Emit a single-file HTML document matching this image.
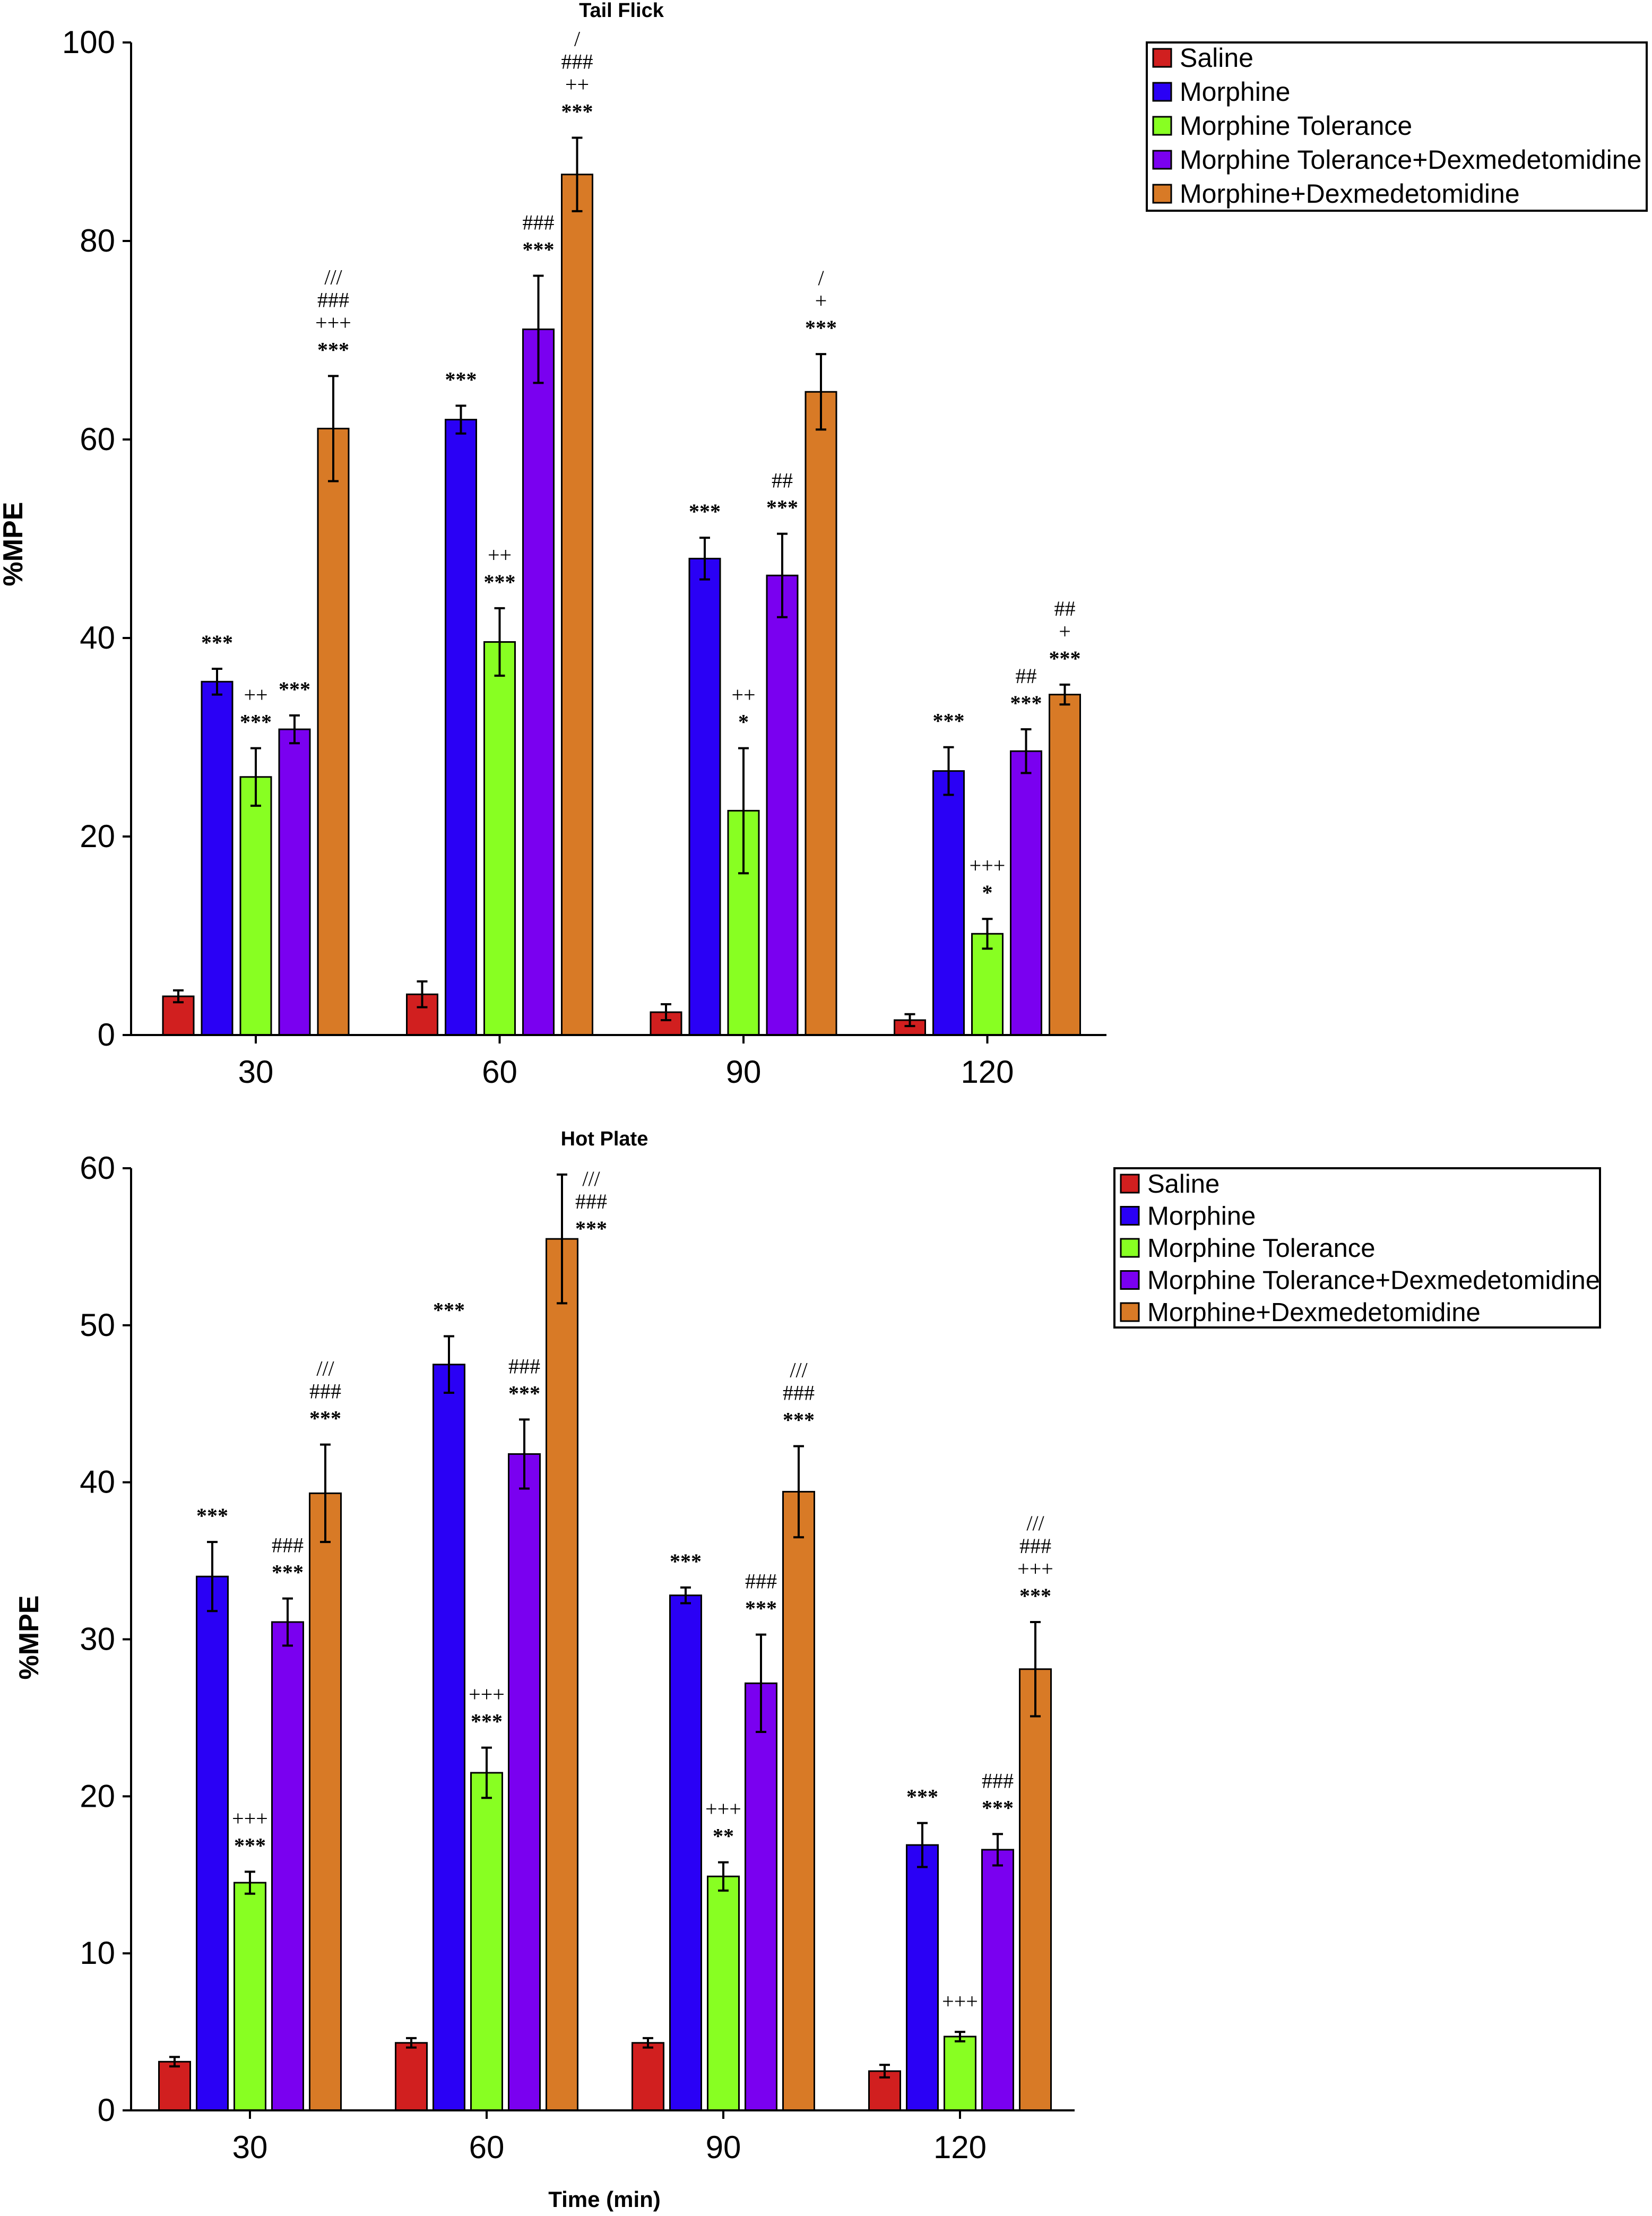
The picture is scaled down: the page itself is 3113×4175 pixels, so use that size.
<!DOCTYPE html>
<html><head><meta charset="utf-8"><style>
html,body{margin:0;padding:0;background:#fff;}
svg{display:block;}
text{font-family:"Liberation Sans Narrow","Liberation Sans",sans-serif;}
</style></head><body>
<svg id="c" width="3113" height="4175" viewBox="0 0 3113 4175" xmlns="http://www.w3.org/2000/svg"></svg>
<script>
const groups = ["30","60","90","120"];
const seriesNames = ["Saline","Morphine","Morphine Tolerance","Morphine Tolerance+Dexmedetomidine","Morphine+Dexmedetomidine"];
const colors = ["#d11f1f","#2a00f5","#88ff22","#7a00f0","#d87a26"];
// Tail Flick
const tfSaline = [3.9,4.1,2.3,1.5];
const tfMorphine = [35.6,62.0,48.0,26.6];
const tfTolerance = [26.0,39.6,22.6,10.2];
const tfTolDex = [30.8,71.1,46.3,28.6];
const tfMorDex = [61.1,86.7,64.8,34.3];
const tfErrSaline = [0.6,1.3,0.8,0.6];
const tfErrMorphine = [1.3,1.4,2.1,2.4];
const tfErrTolerance = [2.9,3.4,6.3,1.5];
const tfErrTolDex = [1.4,5.4,4.2,2.2];
const tfErrMorDex = [5.3,3.7,3.8,1.0];
const tfTicks = [0,20,40,60,80,100];
const tfMarks = [
 [[],["***"],["***","++"],["***"],["***","+++","###","///"]],
 [[],["***"],["***","++"],["***","###"],["***","++","###","/"]],
 [[],["***"],["*","++"],["***","##"],["***","+","/"]],
 [[],["***"],["*","+++"],["***","##"],["***","+","##"]]
];
// Hot Plate
const hpSaline = [3.1,4.3,4.3,2.5];
const hpMorphine = [34.0,47.5,32.8,16.9];
const hpTolerance = [14.5,21.5,14.9,4.7];
const hpTolDex = [31.1,41.8,27.2,16.6];
const hpMorDex = [39.3,55.5,39.4,28.1];
const hpErrSaline = [0.3,0.3,0.3,0.4];
const hpErrMorphine = [2.2,1.8,0.5,1.4];
const hpErrTolerance = [0.7,1.6,0.9,0.3];
const hpErrTolDex = [1.5,2.2,3.1,1.0];
const hpErrMorDex = [3.1,4.1,2.9,3.0];
const hpTicks = [0,10,20,30,40,50,60];
const hpMarks = [
 [[],["***"],["***","+++"],["***","###"],["***","###","///"]],
 [[],["***"],["***","+++"],["***","###"],["***","###","///"]],
 [[],["***"],["**","+++"],["***","###"],["***","###","///"]],
 [[],["***"],["+++"],["***","###"],["***","+++","###","///"]]
];

const NS="http://www.w3.org/2000/svg";
const svg=document.getElementById('c');
function mk(tag,attrs,parent,txt){const e=document.createElementNS(NS,tag);for(const k in attrs)e.setAttribute(k,attrs[k]);if(txt!==undefined)e.textContent=txt;(parent||svg).appendChild(e);return e;}

function chart(cfg){
  const g=mk('g',{});
  
  
  const y=v=>cfg.y0-(v-0)/cfg.max*(cfg.y0-cfg.yTop);
  const gx=i=>cfg.centers0+i*cfg.groupStep;
  const bx=(i,s)=>gx(i)+(s-2)*cfg.pitch;
  const t=mk('text',{x:cfg.titleX,y:cfg.titleY,'font-size':38,'font-weight':'bold','text-anchor':'middle'},g,cfg.title);
  
  const yt=mk('text',{x:0,y:0,'font-size':52,'font-weight':'bold','text-anchor':'middle',transform:`translate(${cfg.ytX},${cfg.ytY}) rotate(-90)`,style:'font-family:"Liberation Sans",sans-serif'},g,'%MPE');
  
  cfg.series.forEach((vals,s)=>{
    vals.forEach((v,i)=>{
      const x=bx(i,s), w=cfg.bw;
      const r=mk('rect',{x:x-w/2,y:y(v),width:w,height:cfg.y0-y(v),fill:colors[s],stroke:'#000','stroke-width':3},g);
      
      
      const e=cfg.errs[s][i];
      const eg=mk('g',{stroke:'#000','stroke-width':4},g);
      
      mk('line',{x1:x,x2:x,y1:y(v+e),y2:y(v-e)},eg);
      mk('line',{x1:x-10,x2:x+10,y1:y(v+e),y2:y(v+e)},eg);
      mk('line',{x1:x-10,x2:x+10,y1:y(v-e),y2:y(v-e)},eg);
      const marks=cfg.marks[i][s];
      // if stack would run past the plot top, place it beside the error bar
      let baseY=y(v+e)-44, ax=x;
      if(baseY-(marks.length-1)*43 < cfg.yTop-20){ baseY=y(v)-14; ax=x+55; }
      marks.forEach((m,k)=>{
        const bold=m.indexOf('*')>=0;
        const tx=mk('text',{x:ax,y:baseY-k*43+(bold?8:0),'font-size':bold?40:40,'font-weight':bold?'bold':'normal','text-anchor':'middle',style:'font-family:"Liberation Serif",serif'},g,m);
        
      });
    });
  });
  const axg=mk('g',{stroke:'#000','stroke-width':4},g);
  
  mk('line',{x1:cfg.ax,x2:cfg.ax,y1:cfg.yTop,y2:cfg.y0+2},axg);
  mk('line',{x1:cfg.ax-14,x2:cfg.xEnd,y1:cfg.y0,y2:cfg.y0},axg);
  cfg.ticks.forEach(tv=>{
    mk('line',{x1:cfg.ax-16,x2:cfg.ax,y1:y(tv),y2:y(tv)},axg);
    const l=mk('text',{x:cfg.ax-30,y:y(tv)+20,'font-size':60,'text-anchor':'end'},g,String(tv));
    
  });
  groups.forEach((gl,i)=>{
    mk('line',{x1:gx(i),x2:gx(i),y1:cfg.y0,y2:cfg.y0+16},axg);
    const l=mk('text',{x:gx(i),y:cfg.y0+90,'font-size':60,'text-anchor':'middle'},g,gl);
    
  });
  const lg=mk('g',{},g);
  
  mk('rect',{x:cfg.lx,y:cfg.ly,width:cfg.lw,height:cfg.lh,fill:'#fff',stroke:'#000','stroke-width':4},lg);
  seriesNames.forEach((n,s)=>{
    const cy=cfg.ly+29+s*cfg.lstep;
    const ent=mk('g',{},lg);
    
    mk('rect',{x:cfg.lx+12,y:cy-17,width:34,height:34,fill:colors[s],stroke:'#000','stroke-width':3},ent);
    mk('text',{x:cfg.lx+62,y:cy+17,'font-size':cfg.lfs},ent,n);
  });
}

chart({name:'tail-flick-chart',title:'Tail Flick',titleX:1171,titleY:32,ytX:42,ytY:1025,
  y0:1950,yTop:80,max:100,ax:247,xEnd:2085,centers0:482,groupStep:459.5,pitch:73,bw:58,
  series:[tfSaline,tfMorphine,tfTolerance,tfTolDex,tfMorDex],
  errs:[tfErrSaline,tfErrMorphine,tfErrTolerance,tfErrTolDex,tfErrMorDex],
  marks:tfMarks,ticks:tfTicks,lx:2161,ly:80,lw:942,lh:317,lstep:64,lfs:50});
chart({name:'hot-plate-chart',title:'Hot Plate',titleX:1139,titleY:2158,ytX:72,ytY:3085,
  y0:3976,yTop:2201,max:60,ax:247,xEnd:2025,centers0:471,groupStep:446,pitch:71,bw:59,
  series:[hpSaline,hpMorphine,hpTolerance,hpTolDex,hpMorDex],
  errs:[hpErrSaline,hpErrMorphine,hpErrTolerance,hpErrTolDex,hpErrMorDex],
  marks:hpMarks,ticks:hpTicks,lx:2100,ly:2201,lw:915,lh:300,lstep:60.5,lfs:49});
const xt=mk('text',{x:1139,y:4158,'font-size':42,'font-weight':'bold','text-anchor':'middle'},svg,'Time (min)');


</script>
</body></html>
